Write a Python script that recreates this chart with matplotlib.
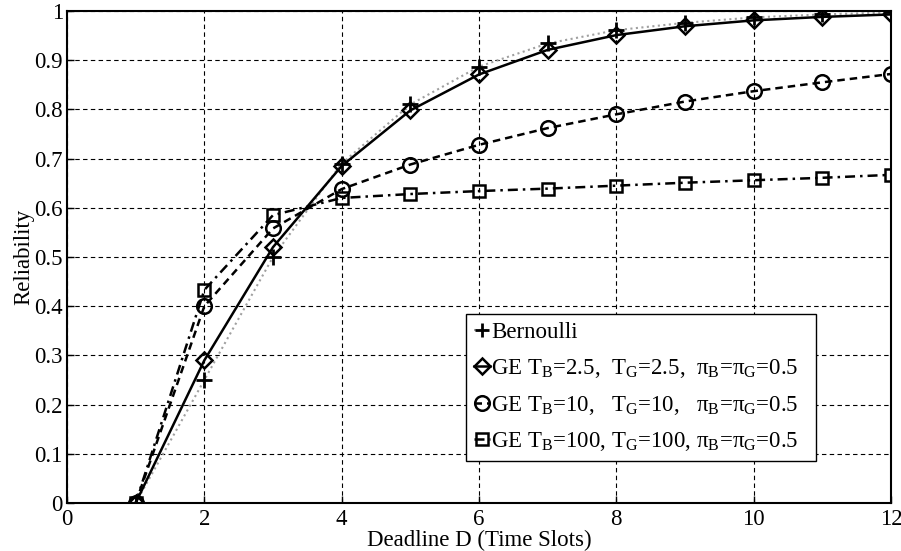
import matplotlib
matplotlib.use("Agg")
import matplotlib.pyplot as plt

plt.rcParams['font.family'] = ['Liberation Serif', 'DejaVu Serif']
plt.rcParams['mathtext.fontset'] = 'custom'
plt.rcParams['mathtext.rm'] = 'Liberation Serif'
plt.rcParams['mathtext.it'] = 'Liberation Serif:italic'

deadline = [1, 2, 3, 4, 5, 6, 7, 8, 9, 10, 11, 12]
bernoulli = [0.0, 0.25, 0.50, 0.69, 0.81, 0.887, 0.934, 0.961, 0.976, 0.987, 0.993, 0.997]
ge_2_5 = [0.0, 0.29, 0.52, 0.685, 0.798, 0.871, 0.921, 0.951, 0.969, 0.981, 0.988, 0.993]
ge_10 = [0.0, 0.40, 0.558, 0.638, 0.688, 0.728, 0.762, 0.790, 0.816, 0.837, 0.855, 0.872]
ge_100 = [0.0, 0.433, 0.585, 0.620, 0.628, 0.634, 0.639, 0.645, 0.651, 0.656, 0.661, 0.667]

labels = [
    "Bernoulli",
    "GE T$_{\\mathrm{B}}$=2.5,  T$_{\\mathrm{G}}$=2.5,  π$_{\\mathrm{B}}$=π$_{\\mathrm{G}}$=0.5",
    "GE T$_{\\mathrm{B}}$=10,   T$_{\\mathrm{G}}$=10,   π$_{\\mathrm{B}}$=π$_{\\mathrm{G}}$=0.5",
    "GE T$_{\\mathrm{B}}$=100, T$_{\\mathrm{G}}$=100, π$_{\\mathrm{B}}$=π$_{\\mathrm{G}}$=0.5",
]
x_ticks = [0, 2, 4, 6, 8, 10, 12]
y_ticks = [0, 0.1, 0.2, 0.3, 0.4, 0.5, 0.6, 0.7, 0.8, 0.9, 1]
y_ticklabels = ["0", "0.1", "0.2", "0.3", "0.4", "0.5", "0.6", "0.7", "0.8", "0.9", "1"]

fig = plt.figure(figsize=(9.01, 5.51), dpi=100)
ax = fig.add_axes([67/901, 1 - 503/551, (891-67)/901, (503-11)/551])

# Bernoulli: gray dotted line with black plus markers
ax.plot(deadline, bernoulli, color='#a0a0a0', linestyle=':', linewidth=1.5, zorder=2)
ax.plot(deadline, bernoulli, linestyle='none', marker='+', color='black',
        markersize=11, markeredgewidth=2, zorder=3)
h0, = ax.plot([], [], linestyle=':', color='#a0a0a0', marker='+', markeredgecolor='black',
              markersize=10, markeredgewidth=2)

h1, = ax.plot(deadline, ge_2_5, color='black', linestyle='-', linewidth=1.8,
              marker='D', markersize=8.5, markerfacecolor='none', markeredgewidth=1.8, zorder=4)
h2, = ax.plot(deadline, ge_10, color='black', linestyle=(0, (3, 2)), linewidth=1.8,
              marker='o', markersize=10.5, markerfacecolor='none', markeredgewidth=1.8, zorder=4)
h3, = ax.plot(deadline, ge_100, color='black', linestyle=(0, (4, 2, 1, 2)), linewidth=1.8,
              marker='s', markersize=8.5, markerfacecolor='none', markeredgewidth=1.8, zorder=4)

ax.set_xlim(0, 12)
ax.set_ylim(0, 1)
ax.set_xticks(x_ticks)
ax.set_xticklabels([str(t) for t in x_ticks])
ax.set_yticks(y_ticks)
ax.set_yticklabels(y_ticklabels)
ax.tick_params(direction='in', labelsize=16.5, length=5, width=1, pad=3)
ax.tick_params(axis='x', pad=4)
ax.grid(True, color='black', linestyle=(0, (4, 3)), linewidth=0.8)
ax.set_axisbelow(True)
for s in ax.spines.values():
    s.set_linewidth(1.5)

ax.set_xlabel("Deadline D (Time Slots)", fontsize=16.5, labelpad=0)
ax.set_ylabel("Reliability", fontsize=16.5, labelpad=0)

leg = ax.legend([h0, h1, h2, h3], labels, loc='upper left',
                bbox_to_anchor=(0.484, 0.384, 0.425, 0.0), mode='expand',
                borderaxespad=0, fontsize=16.5, handlelength=0.7, handletextpad=0.05,
                borderpad=0.35, labelspacing=0.6, fancybox=False, framealpha=1,
                edgecolor='black')
leg.get_frame().set_linewidth(1.0)

fig.savefig("out.png", dpi=100)
